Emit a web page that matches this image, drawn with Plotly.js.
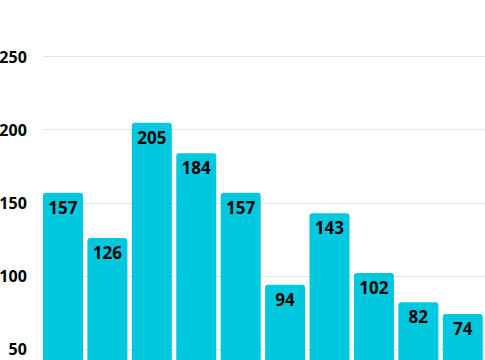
<!DOCTYPE html>
<html>
<head>
<meta charset="utf-8">
<script src="https://cdn.plot.ly/plotly-3.0.1.min.js"></script>
<style>html,body{margin:0;padding:0;background:#fff;}#chart{width:485px;height:360px;}</style>
</head>
<body>
<div id="chart"></div>
<script>
const categories = ["A","B","C","D","E","F","G","H","I","J"];
const values = [157,126,205,184,157,94,143,102,82,74];
const tickValues = [50,100,150,200,250];
const tickLabels = ["50","100","150","200","250"];

Plotly.newPlot('chart', [{
  type: 'bar',
  x: categories.map((c,i)=>i),
  y: values,
  text: values.map(String),
  textposition: 'inside',
  insidetextanchor: 'end',
  textangle: 0,
  insidetextfont: {family: 'Open Sans', size: 17, color: '#000', weight: 'bold'},
  marker: {color: '#00C9DF', cornerradius: 3},
  hoverinfo: 'none'
}], {
  width: 485, height: 360,
  margin: {l: 43, r: 0, t: 0, b: 0},
  paper_bgcolor: '#fff', plot_bgcolor: '#fff',
  bargap: 0.1,
  showlegend: false,
  font: {family: 'Open Sans', color: '#000'},
  xaxis: {range: [-0.45, 9.5], showticklabels: false, showgrid: false, zeroline: false, showline: false, ticks: ''},
  yaxis: {
    range: [42.5, 289],
    tickvals: tickValues, ticktext: tickLabels,
    tickfont: {family: 'Open Sans', size: 16, color: '#000', weight: 'bold'},
    showgrid: true, gridcolor: '#e3e3e3', gridwidth: 1,
    zeroline: false, showline: false,
    ticks: 'outside', ticklen: 12, tickcolor: 'rgba(0,0,0,0)'
  },
  uniformtext: {mode: false}
}, {staticPlot: true, displayModeBar: false});
</script>
</body>
</html>
